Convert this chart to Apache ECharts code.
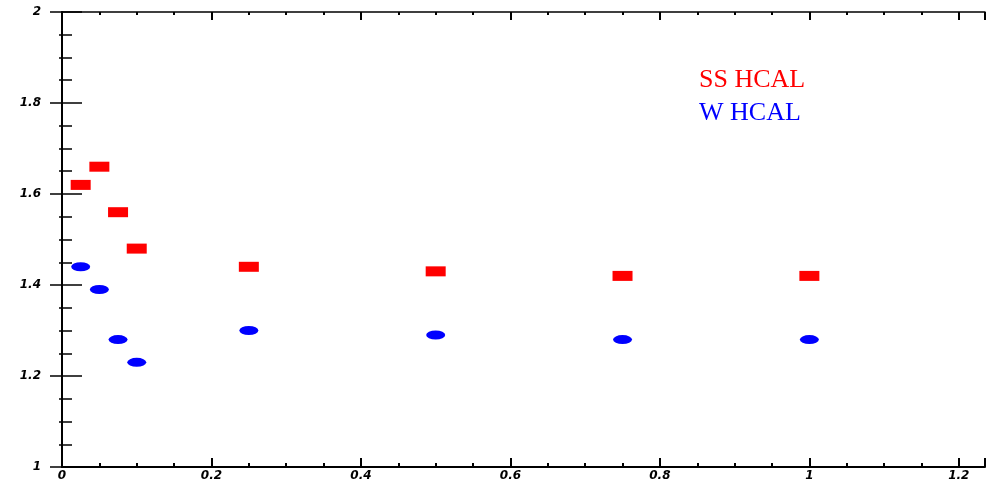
<!DOCTYPE html>
<html>
<head>
<meta charset="utf-8">
<script src="https://cdn.jsdelivr.net/npm/echarts@6/dist/echarts.min.js"></script>
<style>html,body{margin:0;padding:0;background:#fff}#c{width:989px;height:483px}</style>
</head>
<body>
<div id="c"></div>
<script>
const xValues = [0.025, 0.05, 0.075, 0.1, 0.25, 0.5, 0.75, 1.0];
const ssHcal = [1.62, 1.66, 1.56, 1.48, 1.44, 1.43, 1.42, 1.42];
const wHcal = [1.44, 1.39, 1.28, 1.23, 1.30, 1.29, 1.28, 1.28];
const seriesNames = ['SS HCAL', 'W HCAL'];

const labelFont = {fontFamily: 'DejaVu Sans', fontWeight: 'bold', fontStyle: 'italic', fontSize: 12, color: '#000'};
const chart = echarts.init(document.getElementById('c'));
const axisLine = {show: true, lineStyle: {color: '#000', width: 2}};
chart.setOption({
  animation: false,
  backgroundColor: '#fff',
  grid: {left: 62, right: 4, top: 12, bottom: 16},
  xAxis: [
    {type: 'value', min: 0, max: 1.235, interval: 0.2, position: 'bottom',
     axisLine: axisLine,
     axisTick: {inside: true, length: 9, lineStyle: {color: '#000', width: 2}},
     minorTick: {show: true, splitNumber: 4, length: 4, lineStyle: {color: '#000', width: 2}},
     axisLabel: Object.assign({margin: 3, showMaxLabel: false, formatter: v => String(v)}, labelFont),
     splitLine: {show: false}},
    {type: 'value', min: 0, max: 1.235, interval: 0.2, position: 'top',
     axisLine: {show: true, lineStyle: {color: '#000', width: 1.5}},
     axisTick: {inside: true, length: 8, lineStyle: {color: '#000', width: 2}},
     minorTick: {show: true, splitNumber: 4, length: 3, lineStyle: {color: '#000', width: 2}},
     axisLabel: {show: false}, splitLine: {show: false}}
  ],
  yAxis: [
    {type: 'value', min: 1, max: 2, interval: 0.2, position: 'left',
     axisLine: axisLine,
     axisTick: {inside: true, length: 20, lineStyle: {color: '#000', width: 1.5}},
     minorTick: {show: true, splitNumber: 4, length: 10, lineStyle: {color: '#000', width: 1.5}},
     axisLabel: Object.assign({margin: 21, formatter: v => String(+v.toFixed(1))}, labelFont),
     splitLine: {show: false}},
    {type: 'value', min: 1, max: 2, interval: 0.2, position: 'right',
     axisLine: {show: true, lineStyle: {color: '#000', width: 1.5}},
     axisTick: {inside: true, length: 12, lineStyle: {color: '#000', width: 1.5}},
     minorTick: {show: true, splitNumber: 4, length: 3, lineStyle: {color: '#000', width: 1.5}},
     axisLabel: {show: false}, splitLine: {show: false}}
  ],
  series: [
    {name: seriesNames[0], type: 'scatter', symbol: 'rect', symbolSize: [20, 10],
     itemStyle: {color: '#ff0000', opacity: 1}, data: xValues.map((x, i) => [x, ssHcal[i]])},
    {name: seriesNames[1], type: 'scatter', symbol: 'circle', symbolSize: [19, 9],
     itemStyle: {color: '#0000ff', opacity: 1}, data: xValues.map((x, i) => [x, wHcal[i]])}
  ],
  graphic: [
    {type: 'text', left: 699, top: 67, style: {text: seriesNames[0], fill: '#ff0000', font: '26px "Liberation Serif"'}},
    {type: 'text', left: 699, top: 100, style: {text: seriesNames[1], fill: '#0000ff', font: '26px "Liberation Serif"'}}
  ]
});
</script>
</body>
</html>
